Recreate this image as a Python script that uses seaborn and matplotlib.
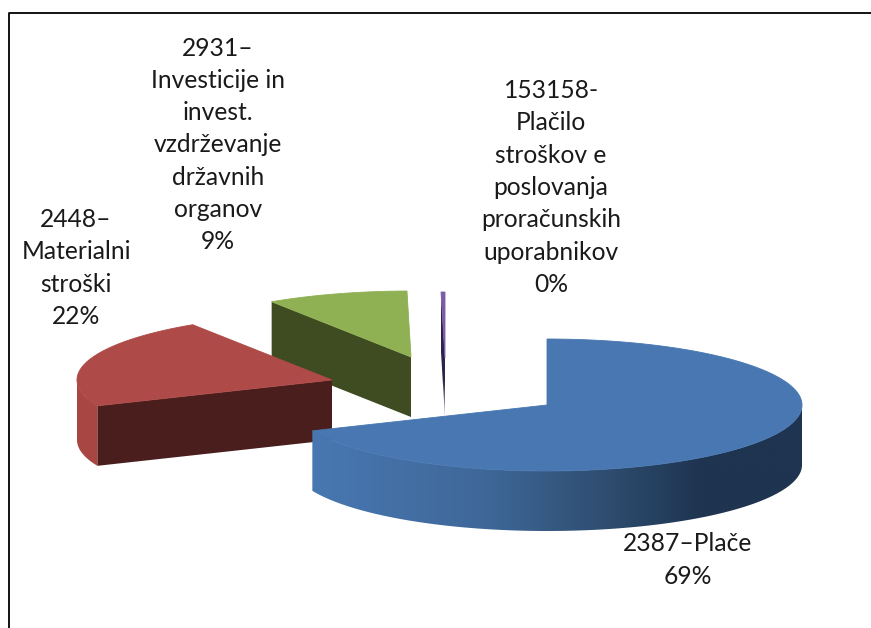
import numpy as np
import seaborn as sns
import matplotlib.pyplot as plt
from matplotlib.colors import LinearSegmentedColormap
from matplotlib.patches import Polygon

labels = [
    "2387–Plače\n69%",
    "2448–\nMaterialni\nstroški\n22%",
    "2931–\nInvesticije in\ninvest.\nvzdrževanje\ndržavnih\norganov\n9%",
    "153158-\nPlačilo\nstroškov e\nposlovanja\nproračunskih\nuporabnikov\n0%",
]
shares = [68.6, 22.2, 8.95, 0.25]

top_colors = ["#4877b1", "#ae4a47", "#8fb053", "#7b5ca6"]
wall_colors = ["#4877b1", "#a84643", "#7c9a48", "#6a4f90"]
cut_colors = ["#1e3450", "#4b1e1e", "#3f4b20", "#2e2348"]

# layout, in image pixels
cx, cy, rx, ry = 547, 405, 255, 66
depth = 60
shift_x = [0, -215, -136, -102]
shift_y = [0, -25, -48, -47]
label_x = [688, 76, 218, 551]
label_y = [560, 268, 145, 187.5]


def rim(angles, dx, dy, drop=0):
    a = np.radians(angles)
    return np.column_stack([cx + dx + rx * np.sin(a), cy + dy - ry * np.cos(a) + drop])


sns.set_theme(style="white")
plt.rcParams['font.family'] = ['Lato', 'DejaVu Sans']

fig, ax = plt.subplots(figsize=(8.71, 6.28), dpi=100)
fig.subplots_adjust(0, 0, 1, 1)
ax.axis("off")

wall_cmap = LinearSegmentedColormap.from_list(
    "wall", [(0, "#4877b1"), (0.35, "#3f6899"), (0.6, "#2e4d70"), (0.8, "#1e3450"), (1, "#1e3450")])
fade_cmap = LinearSegmentedColormap.from_list(
    "fade", [(0, "#2e2348"), (0.7, "#2e2348"), (1, "#c8c6cf")])

edges = np.concatenate([[0], np.cumsum(shares)]) / np.sum(shares) * 360

# back wedges first, the big one sits in front
for i in range(len(shares) - 1, -1, -1):
    start, end = edges[i], edges[i + 1]
    dx, dy = shift_x[i], shift_y[i]
    apex = np.array([[cx + dx, cy + dy]])

    if start > 180:
        p = rim([start], dx, dy)
        face = np.vstack([apex, p, p + [0, depth], apex + [0, depth]])
        if i == len(shares) - 1:
            patch = Polygon(face, fc="none", ec="none", zorder=i * -3 + 10)
            ax.add_patch(patch)
            img = ax.imshow(np.linspace(0, 1, 256).reshape(-1, 1), cmap=fade_cmap,
                            extent=[face[:, 0].min(), face[:, 0].max(), face[:, 1].max(), face[:, 1].min()],
                            aspect="auto", zorder=i * -3 + 10)
            img.set_clip_path(patch)
        else:
            ax.add_patch(Polygon(face, fc=cut_colors[i], ec="none", zorder=i * -3 + 10))

    lo, hi = max(start, 90), min(end, 270)
    if lo < hi:
        t = np.linspace(lo, hi, 120)
        wall = np.vstack([rim(t, dx, dy), rim(t[::-1], dx, dy, depth)])
        if i == 0:
            patch = Polygon(wall, fc="none", ec="none", zorder=i * -3 + 11)
            ax.add_patch(patch)
            img = ax.imshow(np.linspace(0, 1, 256).reshape(1, -1), cmap=wall_cmap,
                            extent=[wall[:, 0].min(), wall[:, 0].max(), wall[:, 1].max(), wall[:, 1].min()],
                            aspect="auto", zorder=i * -3 + 11)
            img.set_clip_path(patch)
        else:
            ax.add_patch(Polygon(wall, fc=wall_colors[i], ec="none", zorder=i * -3 + 11))

    t = np.linspace(start, end, 200)
    ax.add_patch(Polygon(np.vstack([apex, rim(t, dx, dy)]), fc=top_colors[i], ec=top_colors[i],
                         lw=0.6, zorder=i * -3 + 12))

for text, x, y in zip(labels, label_x, label_y):
    ax.text(x, y, text, ha="center", va="center", fontsize=17.7, color="#1a1a1a",
            linespacing=1.49, zorder=20)

ax.set_xlim(0, 871)
ax.set_ylim(628, 0)

# frame of the chart area, cut by the image on the right and at the bottom
ax.plot([8.5, 8.5, 871], [628, 12.5, 12.5], color="black", lw=1.3, zorder=21)

fig.savefig("out.png", dpi=100)
